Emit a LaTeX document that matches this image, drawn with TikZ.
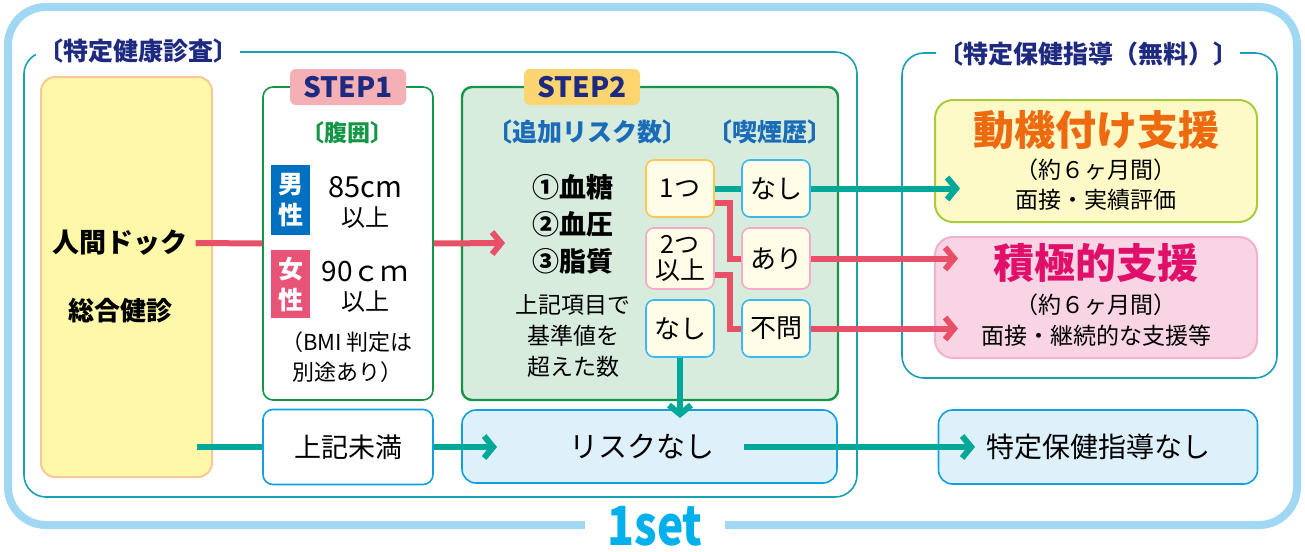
\documentclass[tikz,border=0pt]{standalone}
\usepackage{fontspec}
\setmainfont{Noto Sans CJK JP}
\usetikzlibrary{arrows.meta, positioning}
\definecolor{framesky}{RGB}{160,216,244}
\definecolor{setcyan}{RGB}{0,176,236}
\definecolor{groupteal}{RGB}{26,160,180}
\definecolor{titlenavy}{RGB}{30,42,128}
\definecolor{dockyellow}{RGB}{255,248,168}
\definecolor{dockorange}{RGB}{248,200,150}
\definecolor{stepgreen}{RGB}{20,150,70}
\definecolor{steptwobg}{RGB}{216,236,222}
\definecolor{tagpink}{RGB}{244,176,180}
\definecolor{tagyellow}{RGB}{252,212,112}
\definecolor{maleblue}{RGB}{0,112,192}
\definecolor{femalepink}{RGB}{232,84,120}
\definecolor{riskblue}{RGB}{26,108,184}
\definecolor{choicebg}{RGB}{255,253,232}
\definecolor{oneorange}{RGB}{248,200,80}
\definecolor{twopink}{RGB}{244,170,200}
\definecolor{noneblue}{RGB}{60,184,236}
\definecolor{boxblue}{RGB}{16,160,224}
\definecolor{nonebg}{RGB}{222,240,250}
\definecolor{arrowteal}{RGB}{0,168,154}
\definecolor{arrowpink}{RGB}{232,80,104}
\definecolor{motivebg}{RGB}{254,250,200}
\definecolor{motivegreen}{RGB}{168,204,60}
\definecolor{motiveorange}{RGB}{238,106,16}
\definecolor{activebg}{RGB}{248,212,228}
\definecolor{activepink}{RGB}{244,176,208}
\definecolor{activemagenta}{RGB}{224,16,106}

\begin{document}
\begin{tikzpicture}[x=1pt, y=-1pt,
  box/.style={draw, rounded corners=10pt, line width=1.6pt, align=center, inner sep=0pt},
  choice/.style={box, rounded corners=8pt, fill=choicebg, minimum width=68pt, minimum height=57pt, font=\fontsize{26}{28}\selectfont},
  tealline/.style={draw=arrowteal, line width=6pt},
  pinkline/.style={draw=arrowpink, line width=6pt},
  tip/.style={-{Straight Barb[length=9pt, width=22pt]}},
  grouptitle/.style={fill=white, text=titlenavy, font=\bfseries\fontsize{25}{27}\selectfont, inner xsep=2pt},
  steptag/.style={rounded corners=6pt, text=titlenavy, font=\bfseries\fontsize{28}{30}\selectfont, minimum width=116pt, minimum height=36pt, inner sep=0pt},
  sexmark/.style={minimum width=39pt, text=white, font=\bfseries\fontsize{25}{31}\selectfont, align=center, inner sep=0pt},
  plain/.style={align=center, inner sep=1pt}
]
  \useasboundingbox (0,0) rectangle (1305,551);

  % Outer frame
  \node[draw=framesky, line width=8pt, rounded corners=38pt, minimum width=1289pt, minimum height=518pt] (set) at (652.5,266) {};
  \node[fill=white, text=setcyan, font=\bfseries\fontsize{54}{54}\selectfont, inner xsep=22pt, inner ysep=0pt] (setlabel) at (655,526) {\scalebox{0.82}[1]{1set}};

  % Groups
  \node[draw=groupteal, line width=1.6pt, rounded corners=22pt, minimum width=833pt, minimum height=445pt] (checkup) at (440.5,274.5) {};
  \node[grouptitle, anchor=west] (checkuptitle) at (36,51) {〔特定健康診査〕};
  \node[draw=groupteal, line width=1.6pt, rounded corners=22pt, minimum width=375pt, minimum height=325pt] (guide) at (1089.5,215.5) {};
  \node[grouptitle] (guidetitle) at (1088,54) {〔特定保健指導（無料）〕};

  % Dock
  \node[box, draw=dockorange, fill=dockyellow, line width=2pt, rounded corners=14pt, minimum width=171pt, minimum height=400pt] (dockbox) at (126.5,277) {};
  \node[plain, font=\bfseries\fontsize{27}{29}\selectfont] (dock) at (120,243) {人間ドック};
  \node[plain, font=\bfseries\fontsize{26}{28}\selectfont] (sogo) at (120,311) {総合健診};

  % STEP1
  \node[box, draw=stepgreen, fill=white, minimum width=170pt, minimum height=313pt] (step1) at (348,243.5) {};
  \node[steptag, fill=tagpink] (step1tag) at (348,87) {STEP1};
  \node[plain, text=stepgreen, font=\bfseries\fontsize{23}{25}\selectfont] (waist) at (347,133) {〔腹囲〕};
  \node[sexmark, fill=maleblue, minimum height=70pt] (male) at (290.5,200) {男\\性};
  \node[plain, font=\fontsize{29}{31}\selectfont] (malecm) at (365,187) {85cm};
  \node[plain, font=\fontsize{24}{26}\selectfont] (maleup) at (365,218) {以上};
  \node[sexmark, fill=femalepink, minimum height=68pt] (female) at (290.5,284) {女\\性};
  \node[plain, font=\fontsize{28}{30}\selectfont] (femalecm) at (365,272) {90ｃｍ};
  \node[plain, font=\fontsize{24}{26}\selectfont] (femaleup) at (365,302) {以上};
  \node[plain, font=\fontsize{22}{30}\selectfont] (bmi) at (347,357) {（BMI 判定は\\別途あり）};
  \node[box, draw=boxblue, fill=white, minimum width=170pt, minimum height=75pt, font=\fontsize{27}{29}\selectfont] (under) at (348,447) {上記未満};

  % STEP2
  \node[box, draw=stepgreen, fill=steptwobg, line width=2.4pt, minimum width=376pt, minimum height=313pt] (step2) at (650,243.5) {};
  \node[steptag, fill=tagyellow] (step2tag) at (582,87) {STEP2};
  \node[plain, text=riskblue, font=\bfseries\fontsize{25}{27}\selectfont] (riskhead) at (587,132) {〔追加リスク数〕};
  \node[plain, text=riskblue, font=\bfseries\fontsize{25}{27}\selectfont] (smokehead) at (770,132) {〔喫煙歴〕};
  \node[plain, font=\bfseries\fontsize{27}{37}\selectfont] (risks) at (573,224) {①血糖\\②血圧\\③脂質};
  \node[plain, font=\fontsize{23}{31}\selectfont] (risknote) at (573,336) {上記項目で\\基準値を\\超えた数};
  \node[choice, draw=oneorange] (one) at (680,188.5) {1つ};
  \node[choice, draw=twopink, minimum height=61pt, font=\fontsize{25}{26}\selectfont] (two) at (680,258.5) {2つ\\以上};
  \node[choice, draw=noneblue] (zero) at (680,328.5) {なし};
  \node[choice, draw=noneblue] (nosmk) at (776,188.5) {なし};
  \node[choice, draw=twopink, minimum height=61pt] (yessmk) at (776,258.5) {あり};
  \node[choice, draw=noneblue] (anysmk) at (776,328.5) {不問};

  % Risk none
  \node[box, draw=boxblue, fill=nonebg, rounded corners=14pt, minimum width=375pt, minimum height=73pt] (risknone) at (649.5,446.5) {};
  \node[plain, font=\fontsize{29}{31}\selectfont] (risktext) at (642,447) {リスクなし};

  % Guidance
  \node[box, draw=motivegreen, fill=motivebg, line width=2pt, rounded corners=18pt, minimum width=322pt, minimum height=122pt] (motive) at (1096,161) {};
  \node[plain, text=motiveorange, font=\bfseries\fontsize{41}{43}\selectfont] (motivetitle) at (1096,130) {動機付け支援};
  \node[plain, font=\fontsize{23}{30}\selectfont] (motivenote) at (1096,185) {（約６ヶ月間）\\面接・実績評価};
  \node[box, draw=activepink, fill=activebg, line width=2pt, rounded corners=18pt, minimum width=322pt, minimum height=121pt] (active) at (1096,297.5) {};
  \node[plain, text=activemagenta, font=\bfseries\fontsize{41}{43}\selectfont] (activetitle) at (1096,263) {積極的支援};
  \node[plain, font=\fontsize{23}{31}\selectfont] (activenote) at (1096,320) {（約６ヶ月間）\\面接・継続的な支援等};
  \node[box, draw=boxblue, fill=nonebg, rounded corners=14pt, minimum width=319pt, minimum height=74pt, font=\fontsize{28}{30}\selectfont] (noguide) at (1098,447) {特定保健指導なし};

  % Arrow ends
  \coordinate (dockout) at (197,447);
  \coordinate (step2in) at (505,243);
  \coordinate (risknonein) at (497,447);
  \coordinate (zerotip) at (680,418);
  \coordinate (motivein) at (960,188.5);
  \coordinate (activein1) at (958,258.5);
  \coordinate (activein2) at (958,328.5);
  \coordinate (noguidein) at (975,447);

  % Connectors
  \draw[pinkline] ([xshift=7pt]dock.east) -- (step1.west);
  \draw[pinkline, tip] (step1.east) -- (step2in);
  \draw[tealline] (dockout) -- (under.west);
  \draw[tealline, tip] (under.east) -- (risknonein);
  \draw[tealline] (one.east) -- (nosmk.west);
  \draw[pinkline] ([yshift=-14pt]one.east) -- ++(15,0) |- (yessmk.west);
  \draw[pinkline] ([yshift=-16pt]two.east) -- ++(15,0) |- (anysmk.west);
  \draw[tealline, tip] (zero.south) -- (zerotip);
  \draw[tealline, tip] (nosmk.east) -- (motivein);
  \draw[pinkline, tip] (yessmk.east) -- (activein1);
  \draw[pinkline, tip] (anysmk.east) -- (activein2);
  \draw[tealline, tip] ([xshift=28pt]risktext.east) -- (noguidein);
\end{tikzpicture}
\end{document}
